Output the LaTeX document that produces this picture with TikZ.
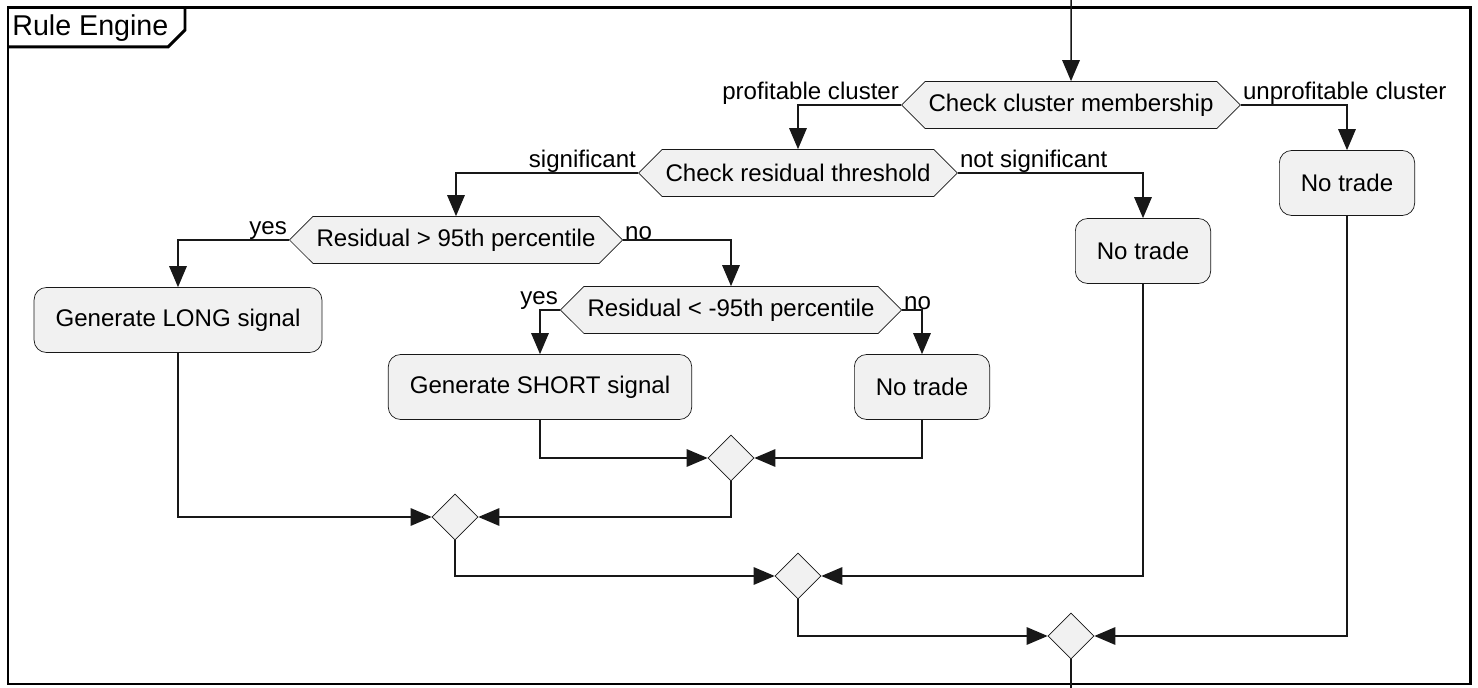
\documentclass[tikz,border=0pt]{standalone}
\usepackage{fontspec}
\setmainfont{Liberation Sans}
\usetikzlibrary{positioning,shapes.geometric,shapes.symbols,arrows.meta}
\definecolor{boxfill}{HTML}{F1F1F1}
\definecolor{linegray}{HTML}{181818}

\begin{document}
\begin{tikzpicture}[x=0.02cm, y=-0.02cm,
  every node/.style={font=\fontsize{13.7}{16}\selectfont},
  act/.style={rectangle, rounded corners=7pt, draw=linegray, fill=boxfill,
              minimum height=1.3cm, inner xsep=0.43cm},
  cond/.style={signal, signal to=west and east, signal pointer angle=90,
               draw=linegray, fill=boxfill, minimum height=0.94cm, inner xsep=2pt},
  merge/.style={diamond, draw=linegray, fill=boxfill, minimum size=0.92cm, inner sep=0pt},
  lbl/.style={inner xsep=1pt, inner ysep=0.5pt, yshift=-0.4pt},
  flow/.style={draw=linegray, line width=0.85pt, -{Triangle[length=12pt,width=10pt]}},
  plain/.style={draw=linegray, line width=0.85pt},
  frame/.style={draw=black, line width=1.7pt}
]
  \useasboundingbox (0,0) rectangle (1478,688);

  % Frame
  \draw[frame] (8,8) rectangle (1470,684);
  \draw[frame] (8,47) -- (168,47) -- (185,30) -- (185,8);
  \node[anchor=west, inner sep=0pt, font=\fontsize{16.3}{18}\selectfont] (title) at (12,28) {Rule Engine};

  % Decisions
  \node[cond] (cm)   at (1071,105) {Check cluster membership};
  \node[cond] (crt)  at (798,173)  {Check residual threshold};
  \node[cond] (r95)  at (456,240)  {Residual > 95th percentile};
  \node[cond] (rn95) at (731,310)  {Residual < -95th percentile};

  % Actions
  \node[act] (nt1)   at (1347,183) {No trade};
  \node[act] (nt2)   at (1143,251) {No trade};
  \node[act] (long)  at (178,320)  {Generate LONG signal};
  \node[act] (short) at (540,387)  {Generate SHORT signal};
  \node[act] (nt3)   at (922,387)  {No trade};

  % Merges
  \node[merge] (m1) at (731,458)  {};
  \node[merge] (m2) at (455,517)  {};
  \node[merge] (m3) at (798,576)  {};
  \node[merge] (m4) at (1071,636) {};

  \coordinate (start) at (1071,0);
  \coordinate (stop)  at (1071,688);

  % Branch labels
  \node[lbl, anchor=south east] (lpc)  at (cm.west)   {profitable cluster};
  \node[lbl, anchor=south west] (luc)  at (cm.east)   {unprofitable cluster};
  \node[lbl, anchor=south east] (lsig) at (crt.west)  {significant};
  \node[lbl, anchor=south west] (lns)  at (crt.east)  {not significant};
  \node[lbl, anchor=south east] (ly1)  at (r95.west)  {yes};
  \node[lbl, anchor=south west] (ln1)  at (r95.east)  {no};
  \node[lbl, anchor=south east] (ly2)  at (rn95.west) {yes};
  \node[lbl, anchor=south west] (ln2)  at (rn95.east) {no};

  % Flow
  \draw[flow] (start) -- (cm);
  \draw[flow] (cm.west) -| (crt.north);
  \draw[flow] (cm.east) -| (nt1.north);
  \draw[flow] (crt.west) -| (r95.north);
  \draw[flow] (crt.east) -| (nt2.north);
  \draw[flow] (r95.west) -| (long.north);
  \draw[flow] (r95.east) -| (rn95.north);
  \draw[flow] (rn95.west) -| (short.north);
  \draw[flow] (rn95.east) -| (nt3.north);

  \draw[flow] (short.south) |- (m1.west);
  \draw[flow] (nt3.south) |- (m1.east);
  \draw[flow] (m1.south) |- (m2.east);
  \draw[flow] (long.south) |- (m2.west);
  \draw[flow] (m2.south) |- (m3.west);
  \draw[flow] (nt2.south) |- (m3.east);
  \draw[flow] (m3.south) |- (m4.west);
  \draw[flow] (nt1.south) |- (m4.east);
  \draw[plain] (m4.south) -- (stop);
\end{tikzpicture}
\end{document}
